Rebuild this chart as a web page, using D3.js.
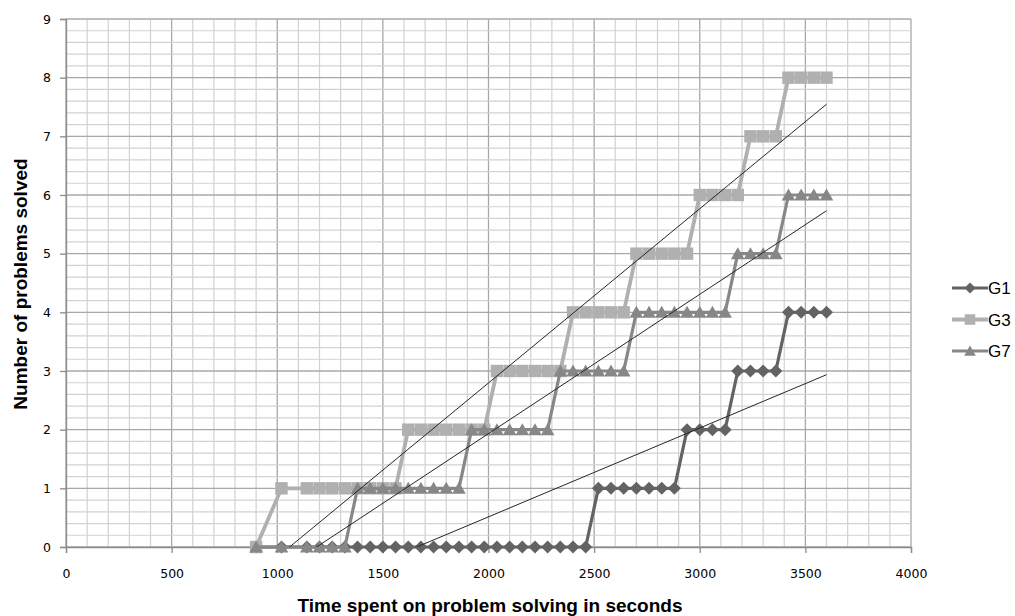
<!DOCTYPE html>
<html><head><meta charset="utf-8">
<script src="https://cdn.jsdelivr.net/npm/d3@7"></script>
<style>body{margin:0;background:#fff} svg{display:block}</style>
</head><body><svg id="c" width="1015" height="616"></svg>
<script>
// ---- data ----
const times = [900, 1020, 1140, 1200, 1260, 1320, 1380, 1440, 1500, 1560, 1620, 1680, 1740, 1800, 1860,
  1920, 1980, 2040, 2100, 2160, 2220, 2280, 2340, 2400, 2460, 2520, 2580, 2640, 2700, 2760, 2820,
  2880, 2940, 3000, 3060, 3120, 3180, 3240, 3300, 3360, 3420, 3480, 3540, 3600];
const g1 = [0, 0, 0, 0, 0, 0, 0, 0, 0, 0, 0, 0, 0, 0, 0,
  0, 0, 0, 0, 0, 0, 0, 0, 0, 0, 1, 1, 1, 1, 1, 1,
  1, 2, 2, 2, 2, 3, 3, 3, 3, 4, 4, 4, 4];
const g3 = [0, 1, 1, 1, 1, 1, 1, 1, 1, 1, 2, 2, 2, 2, 2,
  2, 2, 3, 3, 3, 3, 3, 3, 4, 4, 4, 4, 4, 5, 5, 5,
  5, 5, 6, 6, 6, 6, 7, 7, 7, 8, 8, 8, 8];
const g7 = [0, 0, 0, 0, 0, 0, 1, 1, 1, 1, 1, 1, 1, 1, 1,
  2, 2, 2, 2, 2, 2, 2, 3, 3, 3, 3, 3, 3, 4, 4, 4,
  4, 4, 4, 4, 4, 5, 5, 5, 5, 6, 6, 6, 6];
const seriesNames = ["G1", "G3", "G7"];
const xTickValues = [0, 500, 1000, 1500, 2000, 2500, 3000, 3500, 4000];
const yTickValues = [0, 1, 2, 3, 4, 5, 6, 7, 8, 9];
const xTitle = "Time spent on problem solving in seconds";
const yTitle = "Number of problems solved";

// ---- layout ----
const svg = d3.select("#c");
const L = 66, R = 911, T = 19, B = 547;
const x = d3.scaleLinear().domain([0, 4000]).range([L, R]);
const y = d3.scaleLinear().domain([0, 9]).range([B, T]);

const styles = {
  G1: {color: "#636363", marker: "diamond", width: 3.2},
  G3: {color: "#b0b0b0", marker: "square", width: 3.8},
  G7: {color: "#878787", marker: "triangle", width: 3.2}
};
const seriesData = {G1: g1, G3: g3, G7: g7};

// ---- grid ----
const grid = svg.append("g");
d3.range(0, 4001, 100).forEach(v => {
  const major = v % 500 === 0;
  grid.append("line").attr("x1", x(v)).attr("x2", x(v)).attr("y1", T).attr("y2", B)
    .attr("stroke", major ? "#a8a8a8" : "#d2d2d2").attr("stroke-width", major ? 1.3 : 1.2);
});
d3.range(0, 46).forEach(i => {
  const v = i * 0.2;
  const major = i % 5 === 0;
  grid.append("line").attr("x1", L).attr("x2", R).attr("y1", y(v)).attr("y2", y(v))
    .attr("stroke", major ? "#a8a8a8" : "#d2d2d2").attr("stroke-width", major ? 1.3 : 1.2);
});

// ---- axes ----
const xAxis = d3.axisBottom(x).tickValues(xTickValues).tickSize(6).tickPadding(16).tickFormat(d3.format("d"));
const yAxis = d3.axisLeft(y).tickValues(yTickValues).tickSize(6).tickPadding(9).tickFormat(d3.format("d"));
const gx = svg.append("g").attr("transform", `translate(0,${B})`).call(xAxis);
const gy = svg.append("g").attr("transform", `translate(${L},0)`).call(yAxis);
[gx, gy].forEach(g => {
  g.select(".domain").attr("stroke", "#8c8c8c").attr("stroke-width", 1.3);
  g.selectAll(".tick line").attr("stroke", "#8c8c8c").attr("stroke-width", 1.3);
  g.selectAll(".tick text").attr("font-family", "DejaVu Sans, sans-serif").attr("font-size", 12.5).attr("fill", "#000");
});

// ---- marker shapes ----
function markerPath(kind, s) {
  if (kind === "diamond") return `M0,${-s}L${s},0L0,${s}L${-s},0Z`;
  if (kind === "square") return `M${-s},${-s}H${s}V${s}H${-s}Z`;
  return `M0,${-s}L${s * 1.05},${s * 0.85}L${-s * 1.05},${s * 0.85}Z`;
}
const markerSize = {diamond: 6.5, square: 6.2, triangle: 6.5};

// ---- series ----
const line = d3.line().x(d => x(d.t)).y(d => y(d.v));
seriesNames.forEach(name => {
  const st = styles[name];
  const pts = times.map((t, i) => ({t, v: seriesData[name][i]}));
  const g = svg.append("g");
  g.append("path").datum(pts).attr("d", line).attr("fill", "none")
    .attr("stroke", st.color).attr("stroke-width", st.width).attr("stroke-linejoin", "round");
  g.selectAll("path.m").data(pts).join("path").attr("class", "m")
    .attr("transform", d => `translate(${x(d.t)},${y(d.v)})`)
    .attr("d", markerPath(st.marker, markerSize[st.marker]))
    .attr("fill", st.color);
});

// ---- linear trendlines ----
svg.append("clipPath").attr("id", "plotclip").append("rect")
  .attr("x", L).attr("y", T).attr("width", R - L).attr("height", B - T);
const trend = svg.append("g").attr("clip-path", "url(#plotclip)");
seriesNames.forEach(name => {
  const vals = seriesData[name];
  const mt = d3.mean(times), mv = d3.mean(vals);
  let sxy = 0, sxx = 0;
  times.forEach((t, i) => { sxy += (t - mt) * (vals[i] - mv); sxx += (t - mt) * (t - mt); });
  const slope = sxy / sxx, icpt = mv - slope * mt;
  const t0 = d3.min(times), t1 = d3.max(times);
  trend.append("line")
    .attr("x1", x(t0)).attr("y1", y(icpt + slope * t0))
    .attr("x2", x(t1)).attr("y2", y(icpt + slope * t1))
    .attr("stroke", "#262626").attr("stroke-width", 1);
});

// ---- titles ----
svg.append("text").attr("x", 490).attr("y", 612).attr("text-anchor", "middle")
  .attr("font-family", "Liberation Sans, Arial, sans-serif").attr("font-weight", "bold")
  .attr("font-size", 19).attr("fill", "#000").text(xTitle);
svg.append("text").attr("transform", "translate(27,284) rotate(-90)").attr("text-anchor", "middle")
  .attr("font-family", "Liberation Sans, Arial, sans-serif").attr("font-weight", "bold")
  .attr("font-size", 19).attr("fill", "#000").text(yTitle);

// ---- legend ----
const legend = svg.append("g");
seriesNames.forEach((name, i) => {
  const st = styles[name];
  const ly = 288 + i * 31.5;
  legend.append("line").attr("x1", 952).attr("x2", 988).attr("y1", ly).attr("y2", ly)
    .attr("stroke", st.color).attr("stroke-width", st.width);
  legend.append("path").attr("transform", `translate(970,${ly})`)
    .attr("d", markerPath(st.marker, markerSize[st.marker] * 0.85)).attr("fill", st.color);
  legend.append("text").attr("x", 988).attr("y", ly + 6)
    .attr("font-family", "Liberation Sans, Arial, sans-serif").attr("font-size", 17)
    .attr("fill", "#000").text(name);
});
</script>
</body></html>
